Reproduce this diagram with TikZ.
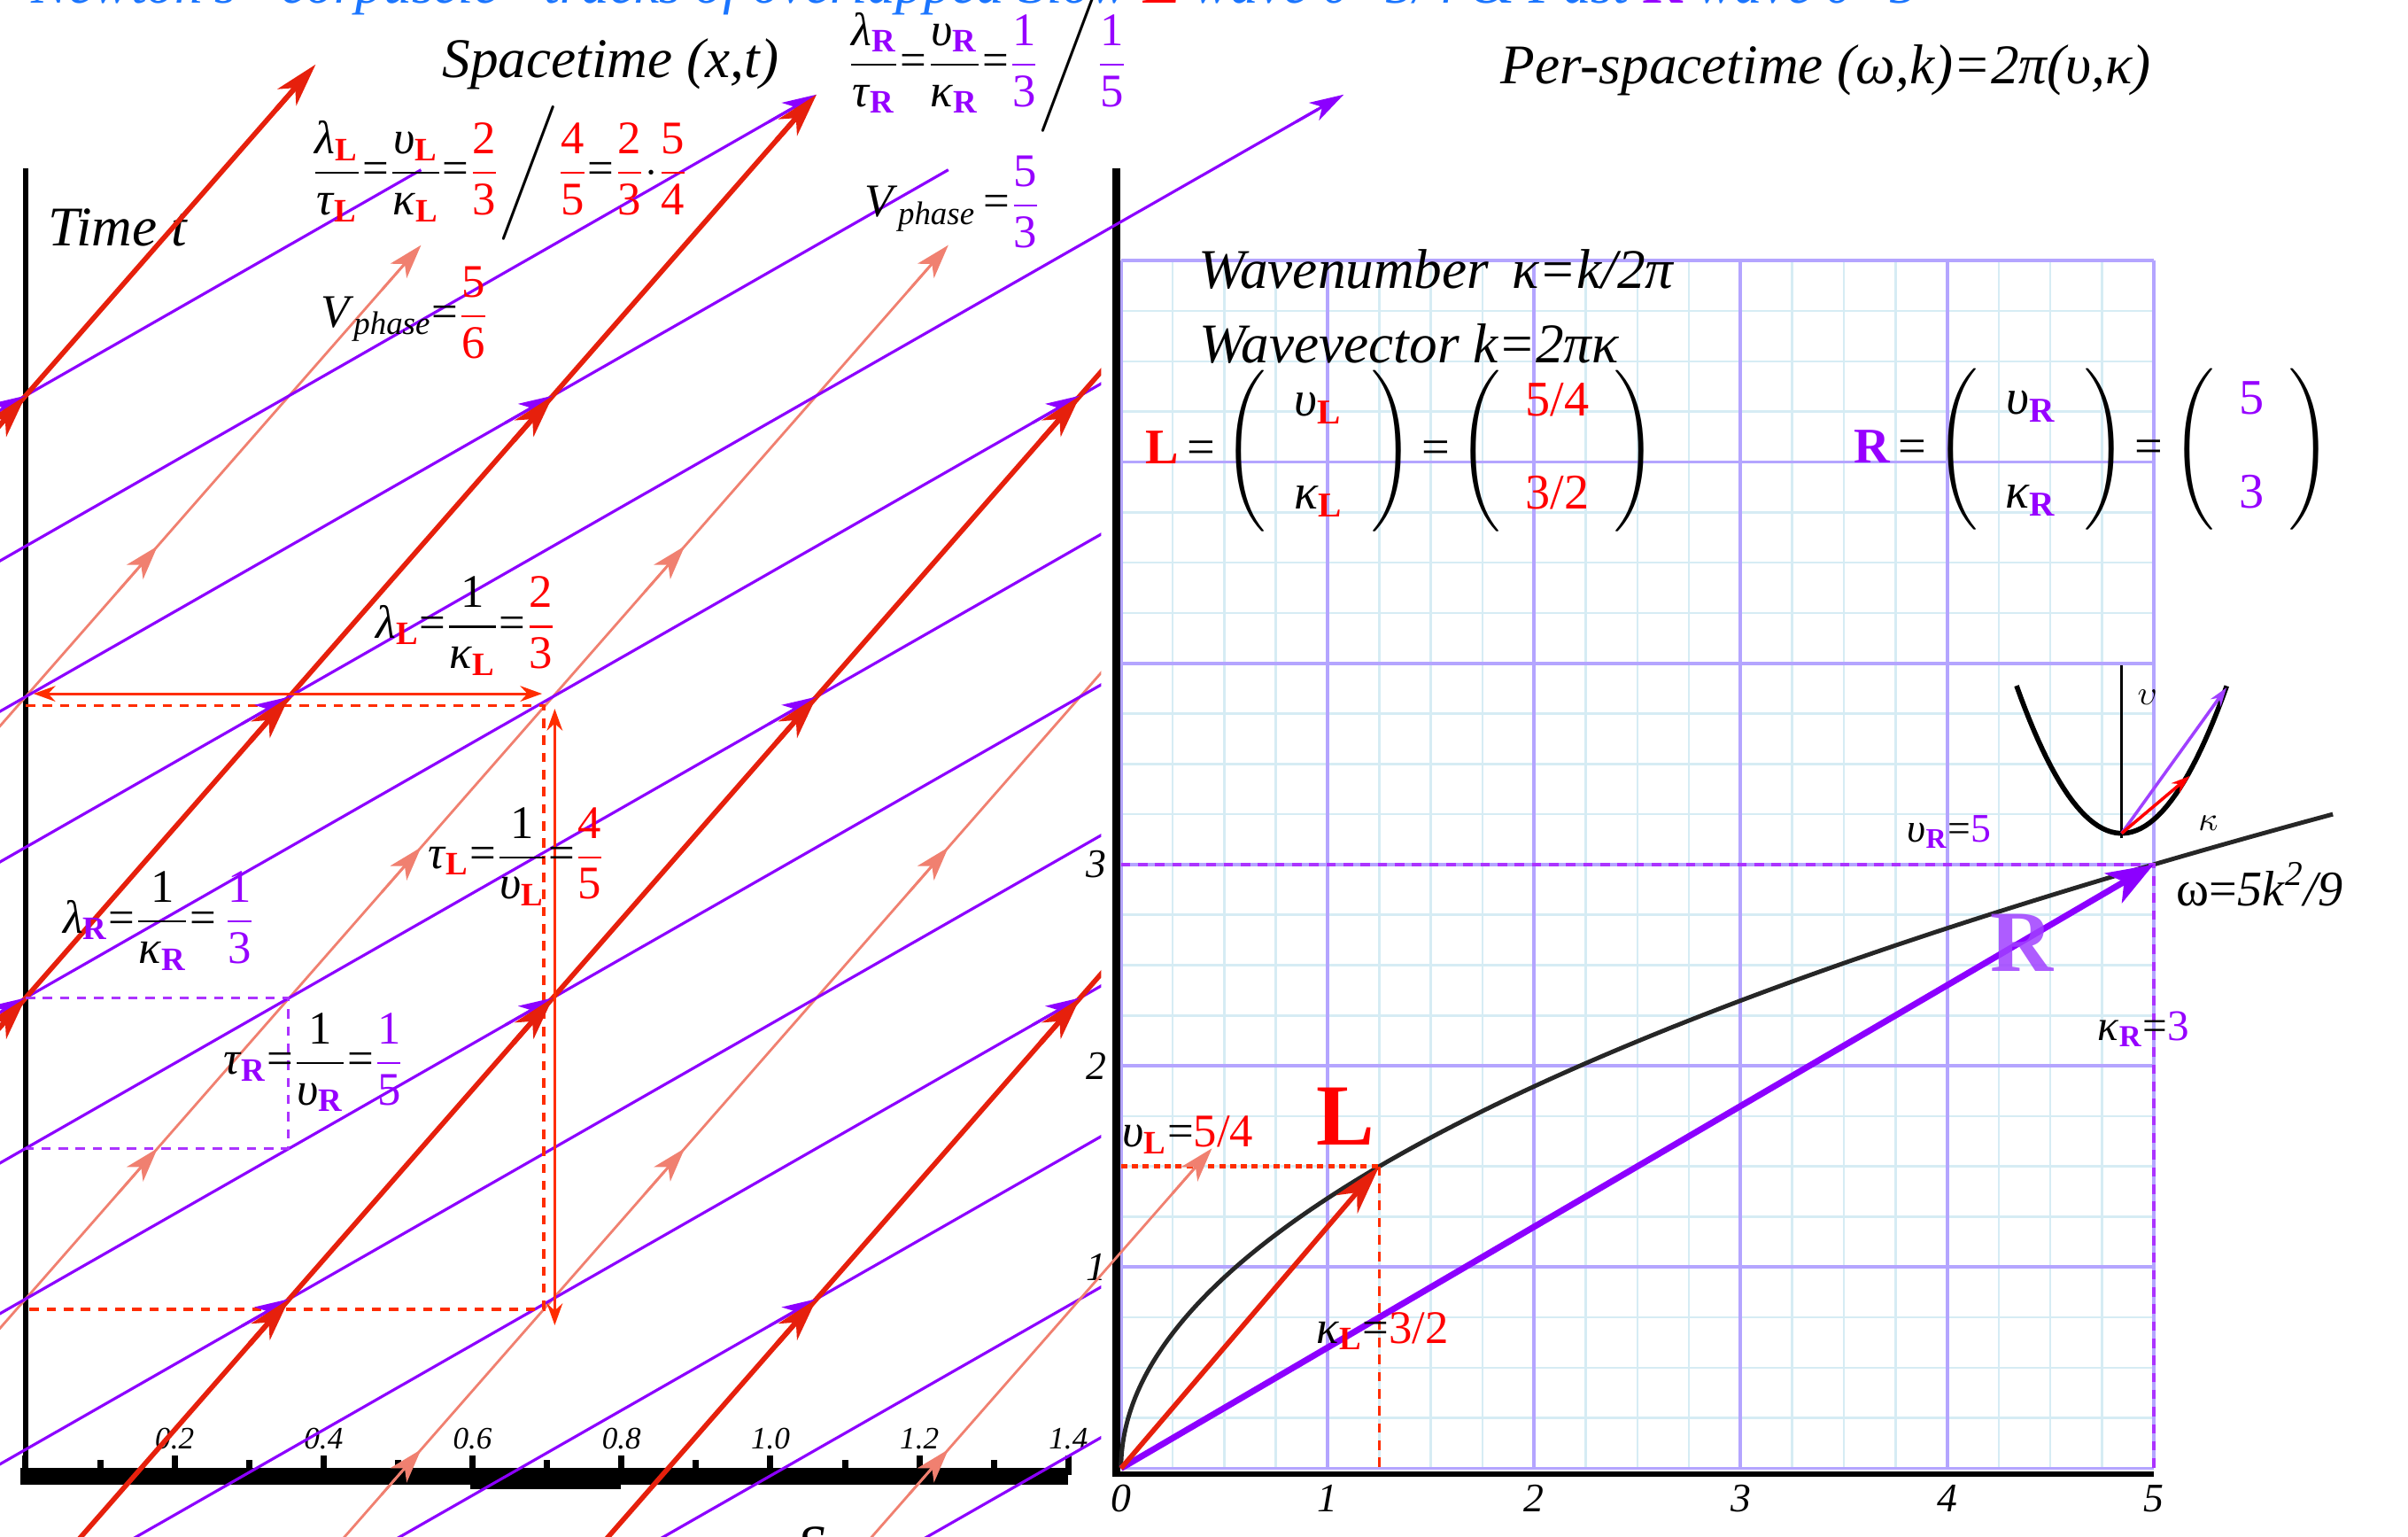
\documentclass[tikz,border=0pt]{standalone}
\usepackage{amsmath}
\usepackage{fontspec}
\setmainfont{Liberation Serif}
\usepackage{xcolor}
\usepackage{tikz}
\usetikzlibrary{positioning,arrows.meta}

\definecolor{Lred}{RGB}{230,32,12}
\definecolor{Ltxt}{RGB}{255,0,0}
\definecolor{Lmark}{RGB}{255,45,0}
\definecolor{Rpur}{RGB}{140,0,255}
\definecolor{Rtxt}{RGB}{150,0,255}
\definecolor{Rlight}{RGB}{160,64,255}
\definecolor{salmon}{RGB}{240,128,112}
\definecolor{titleblue}{RGB}{26,117,255}
\definecolor{gridmaj}{RGB}{180,165,255}
\definecolor{gridmin}{RGB}{214,236,244}

\newcommand{\subL}{\textsubscript{\bfseries\upshape\color{Ltxt}L}}
\newcommand{\subR}{\textsubscript{\bfseries\upshape\color{Rtxt}R}}
\newcommand{\fr}[2]{\ensuremath{\genfrac{}{}{0.6pt}{0}{\text{#1}}{\text{#2}}}}

\begin{document}
\begin{tikzpicture}[
    font=\fontsize{15}{18}\selectfont,
    lwave/.style={Lred, line width=1.6pt},
    rwave/.style={Rpur, line width=0.9pt},
    swave/.style={salmon, line width=0.8pt},
    ltip/.style={Lred, line width=1.6pt, -{Stealth[length=14pt,width=8pt,inset=4pt]}},
    rtip/.style={Rpur, line width=0.9pt, -{Stealth[length=11pt,width=6.5pt,inset=3pt]}},
    stip/.style={salmon, line width=0.8pt, -{Stealth[length=11pt,width=7pt,inset=3pt]}},
    lmark/.style={Lmark, line width=1pt, dash pattern=on 3pt off 2.5pt},
    rmark/.style={Rtxt!80, line width=1pt, dash pattern=on 3pt off 2.5pt},
    spanarrow/.style={Lmark, line width=0.9pt, {Stealth[length=7pt,width=5pt]}-{Stealth[length=7pt,width=5pt]}},
    axisline/.style={black, line width=1.8pt},
    ttl/.style={font=\fontsize{18}{22}\selectfont\itshape, inner sep=0pt},
    frm/.style={inner sep=0pt},
    ticklbl/.style={font=\fontsize{10}{12}\selectfont\itshape, inner sep=0pt},
    num/.style={font=\fontsize{13}{16}\selectfont\itshape, inner sep=0pt},
    lbl/.style={inner sep=0pt},
    bigltr/.style={font=\fontsize{28}{32}\selectfont\bfseries, inner sep=0pt},
    gmin/.style={gridmin, line width=0.7pt},
    gmaj/.style={gridmaj, line width=1.1pt},
    plotcurve/.style={black!85, line width=1.4pt},
  ]
  \useasboundingbox (0,0) rectangle (27.19,17.35);

  % titles
  \node[ttl, text=titleblue, anchor=base west] (head) at (0.35,17.31)
    {Newton's ``corpuscle'' tracks of overlapped Slow {\bfseries\upshape\color{Ltxt}L} wave υ=5/4 \& Fast {\bfseries\upshape\color{Rtxt}R} wave υ=5};
  \node[ttl, anchor=base west] (st) at (4.99,16.47) {Spacetime (x,t)};
  \node[ttl, anchor=base west] (pst) at (16.94,16.40) {Per-spacetime (ω,k)=2π(υ,κ)};
  \node[ttl, anchor=base west] (tt) at (0.54,14.57) {Time t};
  \node[ttl, anchor=north west] (sx) at (9.0,0.12) {Space x};

  % per-spacetime panel
  \begin{scope}[shift={(12.658,0.775)}, x=2.332cm, y=2.272cm]
    \foreach \i in {0,0.25,...,5}
      \draw[gmin] (\i,0) -- (\i,6);
    \foreach \j in {0,0.25,...,6}
      \draw[gmin] (0,\j) -- (5,\j);
    \foreach \i in {0,...,5}
      \draw[gmaj] (\i,0) -- (\i,6);
    \foreach \j in {0,...,6}
      \draw[gmaj] (0,\j) -- (5,\j);
    \draw[line width=2.4pt] (-0.022,-0.04) -- (-0.022,6.46);
    \draw[line width=1.6pt] (-0.03,-0.028) -- (5,-0.028);
    \foreach \i in {0,...,5}
      \node[num] (kx\i) at (\i,-0.15) {\i};
    \foreach \j in {1,2,3}
      \node[num] (ky\j) at (-0.12,\j) {\j};

    \node[ttl, anchor=base west] (wnum) at (0.372,5.862) {Wavenumber \,κ=k/2π};
    \node[ttl, anchor=base west] (wvec) at (0.379,5.495) {Wavevector k=2πκ};

    \node[lbl, font=\fontsize{16}{19}\selectfont] (Lvec) at (1.357,5.056)
      {{\bfseries\color{Ltxt}L}\,=\,$\left(\begin{array}{@{\hspace{9pt}}c@{\hspace{9pt}}}\text{\itshape υ\subL}\\[11pt]\text{\itshape κ\subL}\end{array}\right)$\,=\,$\left(\begin{array}{@{\hspace{8pt}}c@{\hspace{8pt}}}\text{\color{Ltxt}5/4}\\[11pt]\text{\color{Ltxt}3/2}\end{array}\right)$};
    \node[lbl, font=\fontsize{16}{19}\selectfont] (Rvec) at (4.706,5.063)
      {{\bfseries\color{Rtxt}R}\,=\,$\left(\begin{array}{@{\hspace{9pt}}c@{\hspace{9pt}}}\text{\itshape υ\subR}\\[11pt]\text{\itshape κ\subR}\end{array}\right)$\,=\,$\left(\begin{array}{@{\hspace{8pt}}c@{\hspace{8pt}}}\text{\color{Rtxt}5}\\[11pt]\text{\color{Rtxt}3}\end{array}\right)$};

    % dispersion curve and the two wave vectors
    \draw[plotcurve] plot[domain=0:3.25, samples=80, smooth] ({5*\x*\x/9},\x);
    \coordinate (O) at (0,0);
    \coordinate (Lp) at (1.25,1.5);
    \coordinate (Rp) at (5,3);
    \draw[lmark, dash pattern=on 2pt off 1.5pt, line width=1.3pt] (0,1.5) -- (Lp);
    \draw[lmark] (Lp) -- (1.25,-0.028);
    \draw[rmark, line width=1.3pt] (0,3) -- (Rp) -- (5,-0.028);
    \draw[Rpur, line width=2pt, -{Stealth[length=15pt,width=11pt,inset=4pt]}] (O) -- (Rp);
    \draw[Lred, line width=1.6pt, -{Stealth[length=16pt,width=9pt,inset=5pt]}] (O) -- (Lp);

    \node[lbl, anchor=base west] (vL) at (0.004,1.598) {\textit{υ}\subL=\textcolor{Ltxt}{5/4}};
    \node[bigltr, text=Ltxt, anchor=base west] (Lbig) at (0.944,1.605) {L};
    \node[lbl, anchor=base west] (kL) at (0.944,0.621) {\textit{κ}\subL=\textcolor{Ltxt}{3/2}};
    \node[lbl, anchor=base west, font=\fontsize{13}{16}\selectfont] (vR) at (3.804,3.111) {\textit{υ}\subR=\textcolor{Rtxt}{5}};
    \node[lbl, anchor=base west, font=\fontsize{16}{19}\selectfont] (om) at (5.108,2.797) {ω=\textit{5k}\textsuperscript{\itshape 2}\textit{/9}};
    \node[lbl, anchor=base west, font=\fontsize{14}{17}\selectfont] (kR) at (4.726,2.127) {\textit{κ}\subR=\textcolor{Rtxt}{3}};
    \node[bigltr, text=Rlight, anchor=base west, opacity=0.85] (Rbig) at (4.208,2.471) {R};

    % inset parabola
    \coordinate (vx) at (4.845,3.155);
    \draw[black, line width=0.8pt] (4.845,3.13) -- (4.845,3.99);
    \draw[black, line width=1.6pt] plot[domain=4.336:5.354, samples=50] (\x,{3.155+0.733*((\x-4.845)/0.509)^2});
    \draw[Rlight, line width=1pt, -{Stealth[length=6pt,width=4pt]}] (vx) -- (5.353,3.879);
    \draw[Ltxt, line width=1pt, -{Stealth[length=6pt,width=4pt]}] (vx) -- (5.175,3.44);
    \node[lbl, font=\fontsize{11}{13}\selectfont] (iv) at (4.97,3.83) {$\upsilon$};
    \node[lbl, font=\fontsize{11}{13}\selectfont] (ik) at (5.264,3.204) {$\kappa$};
  \end{scope}

  % space ruler
  \fill (0.234,0.590) rectangle (12.064,0.780);
  \fill (5.306,0.538) rectangle (7.005,0.590);
  \foreach \j in {0,2,...,14}
    \draw[line width=2pt] ({0.2896+0.841*\j},0.70) -- ({0.2896+0.841*\j},0.919);
  \foreach \j in {1,3,...,13}
    \draw[line width=2pt] ({0.2896+0.841*\j},0.70) -- ({0.2896+0.841*\j},0.867);
  \foreach \j/\v in {2/0.2,4/0.4,6/0.6,8/0.8,10/1.0,12/1.2,14/1.4}
    \node[ticklbl] (tk\j) at ({0.2896+0.841*\j},1.11) {\v};

  % spacetime panel
  \begin{scope}[shift={(0.2896,6.086)}, x=8.93cm, y=8.497cm]
    \draw[axisline] (0,-0.647) -- (0,1.102);
    \begin{scope}
      \clip (-0.1,-0.9) rectangle (1.36,1.45);
      % salmon tracks
      \foreach \cc/\te in {-1/0.98, 1/0.98, 3/1.4}
        \draw[swave] ({\cc/3-5/6*0.8},-0.8) -- ({\cc/3+5/6*\te},\te);
      % R crests
      \foreach \kk/\te in {-4/1.1, -3/1.18, -2/1.1, 0/1.4, 1/1.4, 2/1.4, 3/1.4, 4/1.4, 5/1.4, 6/1.4, 7/1.4}
        \draw[rwave] ({\kk/3-5/3*0.8},-0.8) -- ({\kk/3+5/3*\te},\te);
      % L crests
      \foreach \cc/\te in {-2/1.22, 0/1.18, 2/1.4, 4/1.4}
        \draw[lwave] ({\cc/3-5/6*0.8},-0.8) -- ({\cc/3+5/6*\te},\te);
    \end{scope}
    \draw[swave] ({5/3-5/6*0.8},-0.8) -- ({5/3-5/6*0.22},-0.22);
    \draw[rwave] (-1/3,0) -- ({-1/3+5/3*1.18},1.18);

    % wavelength and period markers
    \coordinate (lamA) at (0.01,0.404);
    \coordinate (lamB) at (0.653,0.404);
    \coordinate (tauA) at (0.669,0.384);
    \coordinate (tauB) at (0.669,-0.435);
    \draw[lmark] (0,0.388) -- (0.655,0.388) -- (0.655,-0.414) -- (0,-0.414);
    \draw[spanarrow] (lamA) -- (lamB);
    \draw[spanarrow] (tauA) -- (tauB);
    \draw[rmark] (0,0) -- (0.332,0) -- (0.332,-0.2) -- (0,-0.2);

    % arrow tips
    \foreach \xa/\ta in {0.3333/-0.4, 1/-0.4, 0/0, 0.6667/0, 1.3333/0, 0.3333/0.4, 1/0.4, 0/0.8, 0.6667/0.8, 1.3333/0.8, 1/1.2, 1.6667/1.2}
      \draw[rtip] ({\xa-0.06},{\ta-0.036}) -- (\xa,\ta);
    \foreach \xa/\ta in {0.3333/-0.4, 1/-0.4, 0/0, 0.6667/0, 1.3333/0, 0.3333/0.4, 1/0.4, 0/0.8, 0.6667/0.8, 1.3333/0.8, 1/1.2, 0.3667/1.24}
      \draw[ltip] ({\xa-0.05},{\ta-0.06}) -- (\xa,\ta);
    \foreach \xa/\ta in {0.5/-0.6, 1.1667/-0.6, 0.1667/-0.2, 0.8333/-0.2, 1.5/-0.2, 0.5/0.2, 1.1667/0.2, 0.1667/0.6, 0.8333/0.6, 0.5/1.0, 1.1667/1.0}
      \draw[stip] ({\xa-0.05},{\ta-0.06}) -- (\xa,\ta);
  \end{scope}

  % formulas
  \node[frm] (ratR) at (11.15,16.62) {\fr{\textit{λ}\subR}{\textit{τ}\subR}=\fr{\textit{υ}\subR}{\textit{κ}\subR}={\color{Rtxt}\fr{1}{3}}$\Bigg/${\color{Rtxt}\fr{1}{5}}};
  \node[frm] (ratL) at (5.644,15.398) {\fr{\textit{λ}\subL}{\textit{τ}\subL}=\fr{\textit{υ}\subL}{\textit{κ}\subL}={\color{Ltxt}\fr{2}{3}}$\Bigg/${\color{Ltxt}\fr{4}{5}}={\color{Ltxt}\fr{2}{3}}$\cdot${\color{Ltxt}\fr{5}{4}}};
  \node[frm] (vphL) at (4.569,13.820) {\textit{V}\textsubscript{\itshape phase}={\color{Ltxt}\fr{5}{6}}};
  \node[frm] (vphR) at (10.76,15.068) {\textit{V}\textsubscript{\itshape phase}\,={\color{Rtxt}\fr{5}{3}}};
  \node[frm] (lamL) at (5.263,10.282) {\textit{λ}\subL=\fr{1}{\textit{κ}\subL}={\color{Ltxt}\fr{2}{3}}};
  \node[frm] (tauL) at (5.835,7.681) {\textit{τ}\subL=\fr{1}{\textit{υ}\subL}={\color{Ltxt}\fr{4}{5}}};
  \node[frm] (lamR) at (1.795,6.953) {\textit{λ}\subR=\fr{1}{\textit{κ}\subR}=\,{\color{Rtxt}\fr{1}{3}}};
  \node[frm] (tauR) at (3.546,5.358) {\textit{τ}\subR=\fr{1}{\textit{υ}\subR}={\color{Rtxt}\fr{1}{5}}};
\end{tikzpicture}
\end{document}
